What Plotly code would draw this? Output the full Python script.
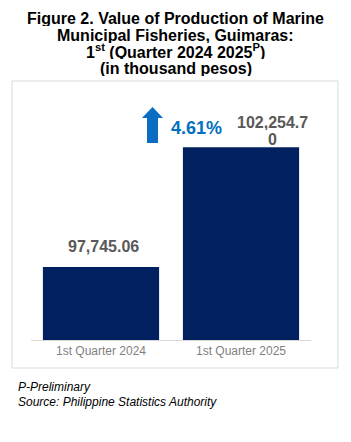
import plotly.graph_objects as go

categories = ["1st Quarter 2024", "1st Quarter 2025"]
values = [97745.06, 102254.70]
title_lines = [
    "<b>Figure 2. Value of Production of Marine</b>",
    "<b>Municipal Fisheries, Guimaras:</b>",
    "<b>1<sup>st</sup> (Quarter 2024 2025<sup>P</sup>)</b>",
    "<b>(in thousand pesos)</b>",
]
footer_lines = ["<i>P-Preliminary</i>", "<i>Source: Philippine Statistics Authority</i>"]

W, H = 351, 442
L, R, T, B = 31, 40, 101, 102
PW, PH = W - L - R, H - T - B
FONT = "Liberation Sans, Arial, sans-serif"


def px(xp):
    return (xp - L) / PW


def py(yp):
    return (H - B - yp) / PH


fig = go.Figure(
    go.Bar(
        x=categories,
        y=values,
        marker=dict(color="#002060", line=dict(width=0)),
        hoverinfo="skip",
    )
)

ann = []
# title
for txt, yc, xc in zip(title_lines, [18, 35, 51, 68], [175, 175, 175, 176]):
    ann.append(dict(text=txt, x=px(xc), y=py(yc), xref="paper", yref="paper",
                    xanchor="center", yanchor="middle", showarrow=False, height=16,
                    font=dict(family=FONT, size=16, color="#000000")))
# footer
for txt, yc in zip(footer_lines, [387, 402]):
    ann.append(dict(text=txt, x=px(16), y=py(yc), xref="paper", yref="paper",
                    xanchor="left", yanchor="middle", showarrow=False,
                    font=dict(family=FONT, size=12, color="#000000")))

# value labels
lab0 = f"{values[0]:,.2f}"
ann.append(dict(text=f"<b>{lab0}</b>", x=categories[0], y=values[0], xshift=2, yshift=21,
                yanchor="middle", showarrow=False,
                font=dict(family=FONT, size=16, color="#595959")))
lab1 = f"{values[1]:,.2f}"
ann.append(dict(text=f"<b>{lab1[:-1]}</b>", x=categories[1], y=values[1], xshift=31, yshift=25,
                yanchor="middle", showarrow=False, height=16,
                font=dict(family=FONT, size=16, color="#595959")))
ann.append(dict(text=f"<b>{lab1[-1]}</b>", x=categories[1], y=values[1], xshift=31, yshift=8,
                yanchor="middle", showarrow=False, height=16,
                font=dict(family=FONT, size=16, color="#595959")))

growth = (values[1] / values[0] - 1) * 100
ann.append(dict(text=f"<b>{growth:.2f}%</b>", x=px(196), y=py(128), xref="paper", yref="paper",
                xanchor="center", yanchor="middle", showarrow=False,
                font=dict(family=FONT, size=18, color="#0070C0")))

arrow_pts = [(147, 143), (147, 118), (142, 118), (152.5, 107), (163, 118), (158, 118), (158, 143)]
path = "M " + " L ".join(f"{px(a):.4f},{py(b):.4f}" for a, b in arrow_pts) + " Z"

shapes = [
    dict(type="rect", xref="paper", yref="paper", x0=px(12), x1=px(338), y0=py(368), y1=py(81),
         line=dict(color="#d9d9d9", width=1), fillcolor="rgba(0,0,0,0)", layer="below"),
    dict(type="path", xref="paper", yref="paper", path=path,
         fillcolor="#0A6CC2", line=dict(width=0)),
]

fig.update_layout(
    width=W, height=H, autosize=False,
    margin=dict(l=L, r=R, t=T, b=B, pad=0),
    paper_bgcolor="white", plot_bgcolor="white",
    bargap=0.17,
    showlegend=False,
    annotations=ann,
    shapes=shapes,
    xaxis=dict(showline=True, linecolor="#d9d9d9", linewidth=1, ticks="", showgrid=False,
               tickfont=dict(family=FONT, size=12, color="#7f7f7f"), fixedrange=True),
    yaxis=dict(range=[95000, 104000], visible=False, showgrid=False, fixedrange=True),
)

fig.write_html("out.html", config={"displayModeBar": False})
